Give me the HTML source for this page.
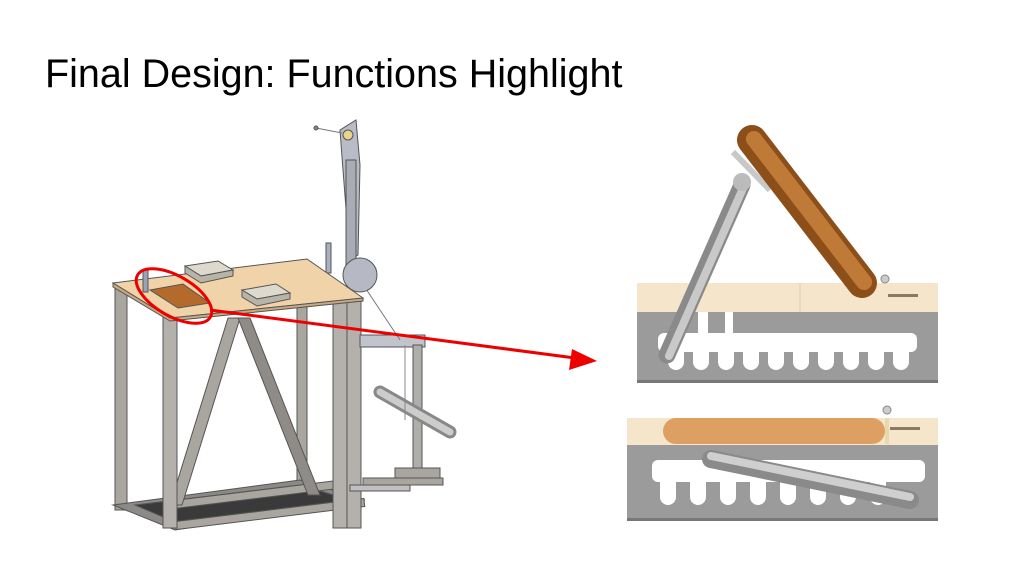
<!DOCTYPE html>
<html><head><meta charset="utf-8"><style>
html,body{margin:0;padding:0;background:#fff;}
body{width:1024px;height:575px;overflow:hidden;position:relative;font-family:"Liberation Sans",sans-serif;}
h1{position:absolute;left:45px;top:53px;margin:0;font-weight:normal;font-size:39.5px;color:#000;line-height:1.1;}
svg{position:absolute;left:0;top:0;}
</style></head><body>
<h1>Final Design: Functions Highlight</h1>
<svg width="1024" height="575" viewBox="0 0 1024 575">
<!-- LEFT MACHINE -->
<g stroke="#555" stroke-width="1">
<rect x="297" y="305" width="10" height="195" fill="#a9a6a0"/>
<rect x="115" y="288" width="12" height="222" fill="#a9a6a0"/>
<polygon points="113,505 300,480 365,500 175,530" fill="#8c8a86"/>
<polygon points="135,505 300,485 350,500 175,522" fill="#3a3a3a"/>
<rect x="170" y="490" width="180" height="8" fill="#a9a6a0" transform="rotate(-7 260 494)"/>
<rect x="175" y="510" width="190" height="8" fill="#a9a6a0" transform="rotate(-7 270 514)"/>
<polygon points="228,318 240,318 182,505 170,505" fill="#a9a6a0"/>
<polygon points="238,318 250,318 320,495 308,495" fill="#8f8c88"/>
<rect x="163" y="316" width="14" height="212" fill="#b4b1ac"/>
<rect x="333" y="300" width="28" height="228" fill="#b4b1ac"/>
<line x1="347" y1="300" x2="347" y2="528"/>
<rect x="360" y="335" width="65" height="12" fill="#c2c4cc"/>
<rect x="413" y="345" width="9" height="140" fill="#b0aeaa"/>
<rect x="395" y="468" width="45" height="10" fill="#a9a6a0"/>
<rect x="363" y="478" width="80" height="7" fill="#a9a6a0"/>
<rect x="350" y="485" width="60" height="6" fill="#c0c0c0"/>
<line x1="380" y1="392" x2="450" y2="432" stroke="#888" stroke-width="13" stroke-linecap="round"/>
<line x1="380" y1="392" x2="450" y2="432" stroke="#ccc" stroke-width="7" stroke-linecap="round"/>
<line x1="360" y1="280" x2="400" y2="340" stroke="#777"/>
<line x1="405" y1="345" x2="405" y2="420" stroke="#888"/>
<polygon points="340,130 356,120 360,165 358,255 350,260 343,170" fill="#b8bcc6"/>
<rect x="346" y="160" width="10" height="110" fill="#a9acb4"/>
<circle cx="360" cy="275" r="17" fill="#b6b9c4"/>
<circle cx="348" cy="135" r="5" fill="#e8d58a"/>
<line x1="316" y1="128" x2="342" y2="133" stroke="#777"/>
<circle cx="316" cy="128" r="2" fill="#888"/>
<rect x="326" y="243" width="5" height="30" fill="#a9b0c0"/>
<polygon points="113,283 307,259 363,298 170,318" fill="#f0d3a8"/>
<polygon points="113,283 170,318 363,298 363,301 170,321 113,287" fill="#c8a980"/>
<polygon points="150,290 183,284 210,303 178,308" fill="#b46a2a"/>
<rect x="143" y="270" width="5" height="22" fill="#9aa2b4"/>
<polygon points="185,266 218,261 233,270 201,276" fill="#ddd9cc"/>
<polygon points="185,266 201,276 233,270 233,276 201,283 185,273" fill="#b8b4a8"/>
<polygon points="242,290 276,284 290,293 257,299" fill="#ddd9cc"/>
<polygon points="242,290 257,299 290,293 290,299 257,306 242,297" fill="#b8b4a8"/>
</g>
<ellipse cx="174" cy="296" rx="42" ry="20" transform="rotate(30 174 296)" fill="none" stroke="#e00" stroke-width="3"/>
<line x1="210" y1="310" x2="575" y2="358" stroke="#e00" stroke-width="3"/>
<polygon points="597,361 572,349 569,370" fill="#e00"/>

<!-- RIGHT TOP -->
<rect x="637" y="283" width="301" height="29" fill="#f5e6cb"/>
<line x1="800" y1="283" x2="800" y2="312" stroke="#e0cfae"/>
<rect x="637" y="312" width="301" height="71" fill="#9b9b9b"/>
<rect x="637" y="380" width="301" height="3" fill="#777"/>
<rect x="658" y="333" width="259" height="19" rx="6" fill="#fff"/>
<rect x="698" y="312" width="10" height="22" fill="#fff"/>
<rect x="725" y="312" width="8" height="22" fill="#fff"/>
<g fill="#fff">
<rect x="668" y="345" width="16" height="25" rx="8"/><rect x="693" y="345" width="16" height="25" rx="8"/>
<rect x="718" y="345" width="16" height="25" rx="8"/><rect x="743" y="345" width="16" height="25" rx="8"/>
<rect x="768" y="345" width="16" height="25" rx="8"/><rect x="793" y="345" width="16" height="25" rx="8"/>
<rect x="818" y="345" width="16" height="25" rx="8"/><rect x="843" y="345" width="16" height="25" rx="8"/>
<rect x="868" y="345" width="16" height="25" rx="8"/><rect x="893" y="345" width="16" height="25" rx="8"/>
</g>
<line x1="733" y1="152" x2="770" y2="190" stroke="#c8c8c8" stroke-width="6"/>
<line x1="752" y1="140" x2="862" y2="283" stroke="#8c4f1a" stroke-width="30" stroke-linecap="round"/>
<line x1="754" y1="139" x2="864" y2="282" stroke="#c07a38" stroke-width="16" stroke-linecap="round"/>
<line x1="742" y1="185" x2="667" y2="355" stroke="#8a8a8a" stroke-width="17" stroke-linecap="round"/>
<line x1="744" y1="186" x2="669" y2="356" stroke="#c9c9c9" stroke-width="8" stroke-linecap="round"/>
<circle cx="742" cy="182" r="9" fill="#bbb"/>
<circle cx="885" cy="279" r="4" fill="#ccc" stroke="#888"/>
<rect x="888" y="294" width="30" height="3" fill="#8a7a60"/>

<!-- RIGHT BOTTOM -->
<rect x="627" y="418" width="311" height="27" fill="#f5e6cb"/>
<rect x="627" y="445" width="311" height="76" fill="#9b9b9b"/>
<rect x="627" y="518" width="311" height="3" fill="#777"/>
<rect x="652" y="460" width="273" height="22" rx="6" fill="#fff"/>
<g fill="#fff">
<rect x="660" y="472" width="16" height="33" rx="8"/><rect x="690" y="472" width="16" height="33" rx="8"/>
<rect x="720" y="472" width="16" height="33" rx="8"/><rect x="750" y="472" width="16" height="33" rx="8"/>
<rect x="780" y="472" width="16" height="33" rx="8"/><rect x="810" y="472" width="16" height="33" rx="8"/>
<rect x="840" y="472" width="16" height="33" rx="8"/><rect x="870" y="472" width="16" height="33" rx="8"/>
</g>
<rect x="663" y="418" width="222" height="26" rx="13" fill="#dea062"/>
<rect x="885" y="418" width="4" height="26" fill="#e8d8b0"/>
<circle cx="887" cy="410" r="4" fill="#ccc" stroke="#888"/>
<rect x="890" y="427" width="30" height="3" fill="#8a7a60"/>
<line x1="711" y1="459" x2="910" y2="500" stroke="#8a8a8a" stroke-width="18" stroke-linecap="round"/>
<line x1="711" y1="456" x2="910" y2="497" stroke="#cfcfcf" stroke-width="8" stroke-linecap="round"/>
</svg>
</body></html>
